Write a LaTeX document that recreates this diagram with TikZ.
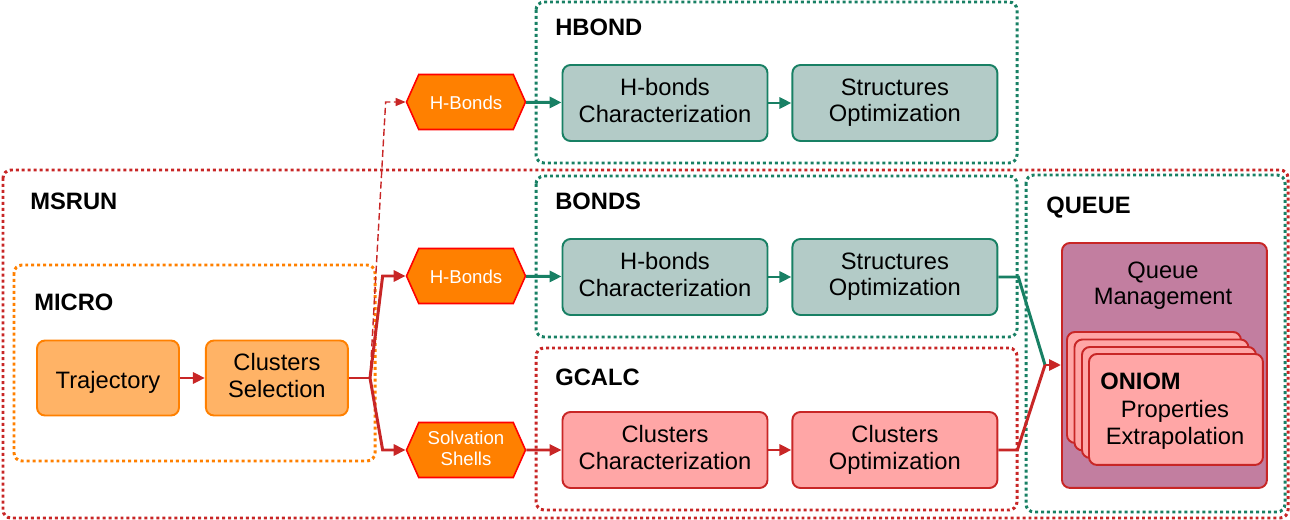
\documentclass[tikz,border=0pt]{standalone}
\usepackage{fontspec}
\setmainfont{Liberation Sans}
\usetikzlibrary{positioning,shapes.symbols,arrows.meta}

\definecolor{flowred}{RGB}{200,38,38}
\definecolor{flowgreen}{RGB}{24,128,100}
\definecolor{microorange}{RGB}{255,128,0}
\definecolor{lightorange}{RGB}{255,179,102}
\definecolor{tealfill}{RGB}{179,203,199}
\definecolor{pinkfill}{RGB}{255,166,166}
\definecolor{mauve}{RGB}{194,126,160}

\begin{document}
\begin{tikzpicture}[x=0.02cm,y=-0.02cm]
  \tikzset{StepBox/.style={draw, rounded corners=0.16cm, line width=1.1pt,
      align=center, inner sep=0pt, font=\fontsize{13.5}{15.1}\selectfont,
      execute at begin node={\rule{0pt}{14.4pt}},
      execute at end node={\rule[-3pt]{0pt}{3pt}}}}
  \tikzset{MicroBox/.style={StepBox, fill=lightorange, draw=microorange,
      minimum width=2.84cm, minimum height=1.5cm}}
  \tikzset{TealBox/.style={StepBox, fill=tealfill, draw=flowgreen,
      minimum width=4.1cm, minimum height=1.52cm}}
  \tikzset{PinkBox/.style={StepBox, fill=pinkfill, draw=flowred,
      minimum width=4.1cm, minimum height=1.52cm}}
  \tikzset{HexNode/.style={signal, signal to=east and west, signal pointer angle=132,
      fill=microorange, draw=red, line width=0.9pt, text=white, align=center,
      inner sep=0pt, minimum width=2.38cm, minimum height=1.1cm,
      font=\fontsize{10.6}{11.9}\selectfont,
      execute at begin node={\rule{0pt}{10.8pt}},
      execute at end node={\rule[-2.5pt]{0pt}{2.5pt}}}}
  \tikzset{GroupBox/.style={rounded corners=0.16cm, line width=1.7pt,
      dash pattern=on 1.7pt off 1.7pt}}
  \tikzset{GroupTitle/.style={anchor=west, inner sep=0pt,
      font=\bfseries\fontsize{13.5}{15}\selectfont}}
  \tikzset{Link/.style={line width=1.7pt, -{Triangle[length=0.24cm,width=0.22cm]}}}
  \tikzset{Card/.style={StepBox, fill=pinkfill, draw=flowred, anchor=north west,
      minimum width=3.48cm, minimum height=2.22cm}}

  \useasboundingbox (0,0) rectangle (1290,520);

  \draw[GroupBox, draw=flowred] (3,170) rectangle (1288,518);
  \draw[GroupBox, draw=microorange] (14,265) rectangle (375,461);
  \draw[GroupBox, draw=flowgreen] (536,2) rectangle (1017,163);
  \draw[GroupBox, draw=flowgreen] (536,176) rectangle (1017,337);
  \draw[GroupBox, draw=flowred] (536,348) rectangle (1017,510);
  \draw[GroupBox, draw=flowgreen] (1026,175) rectangle (1285,512);

  \node[GroupTitle] (msrunT) at (30,201) {MSRUN};
  \node[GroupTitle] (microT) at (34,302) {MICRO};
  \node[GroupTitle] (hbondT) at (555,27) {HBOND};
  \node[GroupTitle] (bondsT) at (555,201) {BONDS};
  \node[GroupTitle] (gcalcT) at (555,377) {GCALC};
  \node[GroupTitle] (queueT) at (1046,208) {QUEUE};

  \node[MicroBox] (traj) at (108,378) {Trajectory};
  \node[MicroBox, right=0.5cm of traj] (csel) {Clusters\\Selection};

  \node[HexNode] (hbA) at (466,102) {H-Bonds};
  \node[HexNode] (hbB) at (466,276) {H-Bonds};
  \node[HexNode] (solv) at (466,450) {Solvation\\Shells};

  \node[TealBox] (hcharA) at (665,103) {H-bonds\\Characterization};
  \node[TealBox, right=0.46cm of hcharA] (soptA) {Structures\\Optimization};
  \node[TealBox] (hcharB) at (665,277) {H-bonds\\Characterization};
  \node[TealBox, right=0.46cm of hcharB] (soptB) {Structures\\Optimization};
  \node[PinkBox] (cchar) at (665,450) {Clusters\\Characterization};
  \node[PinkBox, right=0.46cm of cchar] (copt) {Clusters\\Optimization};

  \node[StepBox, fill=mauve, draw=flowred, anchor=north west,
    minimum width=4.1cm, minimum height=4.9cm] (qman) at (1061,242) {};
  \node[StepBox, draw=none] (qmanT) at (1163,286) {Queue\\Management};
  \foreach \i in {0,1,2}
    \node[Card] (card\i) at (1066+7.5*\i,331+7.5*\i) {};
  \node[Card] (oniom) at (1088,353) {};
  \node[GroupTitle] (oniomT) at (1100,381) {ONIOM};
  \node[StepBox, draw=none] (props) at (1175,425) {Properties\\Extrapolation};

  \coordinate (split) at (370,378);
  \coordinate (qin) at (1045,365);

  \draw[Link, flowred] (traj) -- (csel);
  \draw[line width=1.7pt, flowred] (csel.east) -- (split);
  \draw[Link, flowred] (split) -- ([xshift=-0.46cm]hbB.west) -- (hbB.west);
  \draw[Link, flowred] (split) -- ([xshift=-0.46cm]solv.west) -- (solv.west);
  \draw[flowred, line width=0.8pt, dash pattern=on 4pt off 2pt,
    -{Triangle[length=0.2cm,width=0.16cm]}]
    (split) -- ([xshift=-0.4cm]hbA.west) -- (hbA.west);

  \draw[Link, flowgreen] (hbA) -- (hcharA);
  \draw[Link, flowgreen] (hcharA) -- (soptA);
  \draw[Link, flowgreen] (hbB) -- (hcharB);
  \draw[Link, flowgreen] (hcharB) -- (soptB);
  \draw[Link, flowred] (solv) -- (cchar);
  \draw[Link, flowred] (cchar) -- (copt);

  \draw[line width=1.7pt, flowgreen] (soptB.east) -- ++(0.4cm,0) -- (qin);
  \draw[line width=1.7pt, flowred] (copt.east) -- ++(0.38cm,0) -- (qin);
  \draw[Link, flowred] (qin) -- (qman.west |- qin);
\end{tikzpicture}
\end{document}
